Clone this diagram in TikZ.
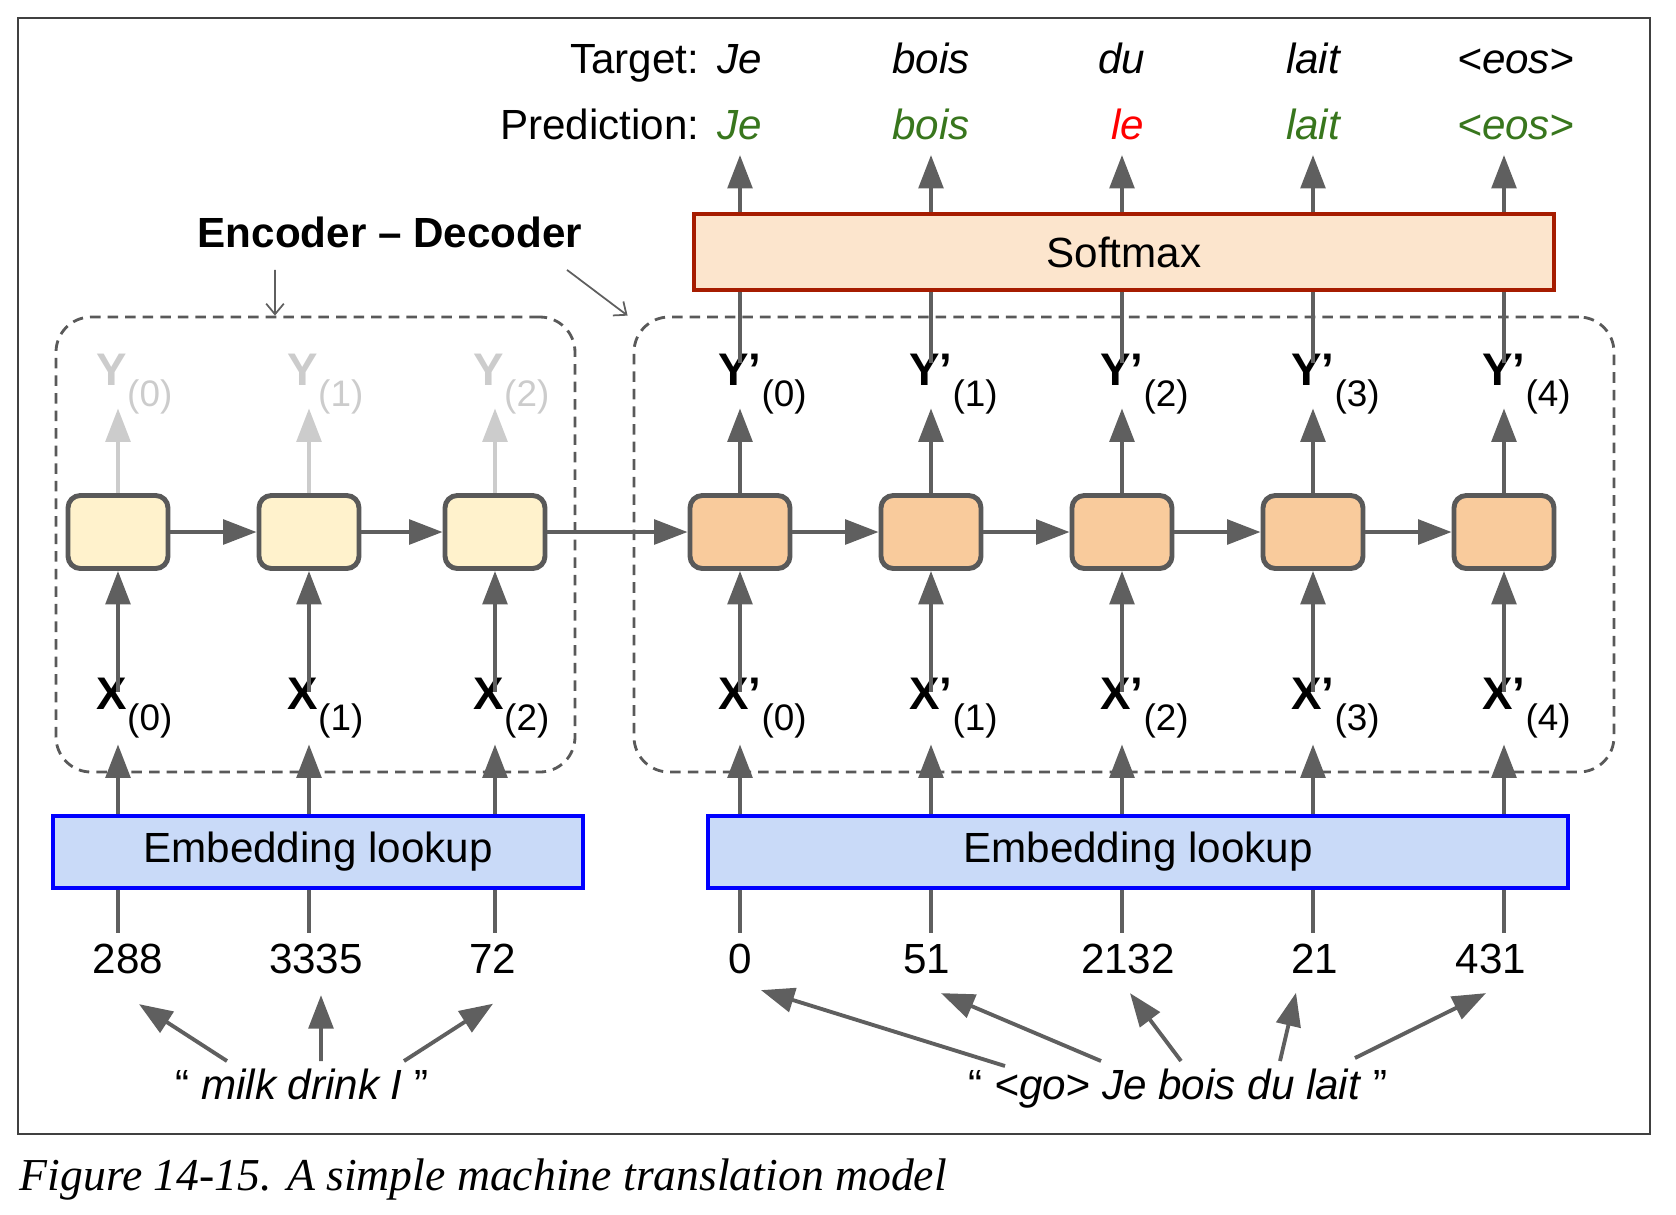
\documentclass[tikz,border=0pt]{standalone}
\usepackage{fontspec}
\setmainfont{Liberation Sans}
\newfontfamily\capfont{Liberation Serif}
\usepackage{xcolor}
\usepackage{tikz}
\usetikzlibrary{
    positioning,
    arrows.meta,
    calc
}

\definecolor{linegray}{HTML}{5F5F5F}
\definecolor{cellgray}{HTML}{595959}
\definecolor{encfill}{HTML}{FFF2CC}
\definecolor{decfill}{HTML}{F9CB9C}
\definecolor{softfill}{HTML}{FCE5CD}
\definecolor{softdraw}{HTML}{A61C00}
\definecolor{embfill}{HTML}{C9DAF8}
\definecolor{embdraw}{HTML}{0000FF}
\definecolor{okgreen}{HTML}{38761D}
\definecolor{badred}{HTML}{FF0000}
\definecolor{fadegray}{HTML}{CCCCCC}

% letter with its time-step index
\newcommand{\seqlbl}[2]{#1\rlap{\fontsize{10.5}{12}\selectfont\mdseries\raisebox{-6pt}{(#2)}}}

\begin{document}
\begin{tikzpicture}[font=\fontsize{12}{14}\selectfont,
  cell/.style={draw=cellgray, line width=1.4pt, rounded corners=3.5pt,
               minimum width=1.0cm, minimum height=0.73cm},
  enccell/.style={cell, fill=encfill},
  deccell/.style={cell, fill=decfill},
  wide/.style={minimum height=0.72cm, inner sep=0pt, line width=0.9pt},
  sym/.style={font=\fontsize{13}{15}\selectfont\bfseries, anchor=base, inner sep=0pt},
  word/.style={font=\fontsize{12}{14}\selectfont\itshape, anchor=base, inner sep=0pt},
  num/.style={anchor=base, inner sep=0pt},
  grp/.style={draw=cellgray, dash pattern=on 3pt off 2pt, line width=0.8pt,
              rounded corners=10pt, inner sep=0pt},
  arr/.style={-{Triangle[length=9.5pt,width=7pt]}, line width=1.1pt, draw=linegray},
  farr/.style={arr, draw=fadegray},
  vline/.style={line width=1.1pt, draw=linegray},
  note/.style={-{Straight Barb[length=3pt,width=5pt]}, line width=0.5pt, draw=linegray}]

  \useasboundingbox (0,0) rectangle (16.76,-12.14);
  \draw[black!75, line width=0.6pt] (0.18,-0.18) rectangle (16.50,-11.34);

  % Encoder / decoder groups (behind everything)
  \node[grp, minimum width=5.19cm, minimum height=4.55cm] (encbox) at (3.155,-5.445) {};
  \node[grp, minimum width=9.80cm, minimum height=4.55cm] (decbox) at (11.24,-5.445) {};
  \node[font=\fontsize{12}{14}\selectfont\bfseries] (encdec) at (3.90,-2.32) {Encoder – Decoder};
  \draw[note] ([xshift=-11.5mm,yshift=-1mm]encdec.south) -- ([xshift=-4.05mm]encbox.north);
  \draw[note] ([xshift=17.7mm,yshift=-1mm]encdec.south) -- ([xshift=-0.5mm]decbox.north west);

  % Recurrent cells
  \node[enccell] (c0) at (1.18,-5.32) {};
  \node[enccell] (c1) at (3.09,-5.32) {};
  \node[enccell] (c2) at (4.95,-5.32) {};
  \node[deccell] (d0) at (7.40,-5.32) {};
  \node[deccell] (d1) at (9.31,-5.32) {};
  \node[deccell] (d2) at (11.22,-5.32) {};
  \node[deccell] (d3) at (13.13,-5.32) {};
  \node[deccell] (d4) at (15.04,-5.32) {};

  % Wide boxes
  \node[wide, draw=softdraw, fill=softfill, minimum width=8.60cm, minimum height=0.76cm]
    (soft) at (11.24,-2.52) {Softmax};
  \node[wide, draw=embdraw, fill=embfill, minimum width=5.30cm] (embL) at (3.18,-8.52) {Embedding lookup};
  \node[wide, draw=embdraw, fill=embfill, minimum width=8.60cm] (embR) at (11.38,-8.52) {Embedding lookup};

  % Inputs and outputs of the cells
  \node[sym] (x0) at (1.12,-7.09) {\seqlbl{X}{0}};
  \node[sym] (x1) at (3.03,-7.09) {\seqlbl{X}{1}};
  \node[sym] (x2) at (4.89,-7.09) {\seqlbl{X}{2}};
  \node[sym, text=fadegray] (y0) at (1.12,-3.85) {\seqlbl{Y}{0}};
  \node[sym, text=fadegray] (y1) at (3.03,-3.85) {\seqlbl{Y}{1}};
  \node[sym, text=fadegray] (y2) at (4.89,-3.85) {\seqlbl{Y}{2}};
  \node[sym] (xp0) at (7.40,-7.09) {\seqlbl{X’}{0}};
  \node[sym] (xp1) at (9.31,-7.09) {\seqlbl{X’}{1}};
  \node[sym] (xp2) at (11.22,-7.09) {\seqlbl{X’}{2}};
  \node[sym] (xp3) at (13.13,-7.09) {\seqlbl{X’}{3}};
  \node[sym] (xp4) at (15.04,-7.09) {\seqlbl{X’}{4}};
  \node[sym] (yp0) at (7.40,-3.85) {\seqlbl{Y’}{0}};
  \node[sym] (yp1) at (9.31,-3.85) {\seqlbl{Y’}{1}};
  \node[sym] (yp2) at (11.22,-3.85) {\seqlbl{Y’}{2}};
  \node[sym] (yp3) at (13.13,-3.85) {\seqlbl{Y’}{3}};
  \node[sym] (yp4) at (15.04,-3.85) {\seqlbl{Y’}{4}};

  % Target and prediction rows
  \node[anchor=base east, inner sep=0pt] (tgtlbl) at (7.00,-0.73) {Target:};
  \node[anchor=base east, inner sep=0pt] (predlbl) at (7.00,-1.39) {Prediction:};
  \node[word] (t0) at (7.40,-0.73) {Je};
  \node[word] (t1) at (9.31,-0.73) {bois};
  \node[word] (t2) at (11.22,-0.73) {du};
  \node[word] (t3) at (13.13,-0.73) {lait};
  \node[word] (t4) at (15.16,-0.73) {<eos>};
  \node[word, text=okgreen] (p0) at (7.40,-1.39) {Je};
  \node[word, text=okgreen] (p1) at (9.31,-1.39) {bois};
  \node[word, text=badred]  (p2) at (11.28,-1.39) {le};
  \node[word, text=okgreen] (p3) at (13.13,-1.39) {lait};
  \node[word, text=okgreen] (p4) at (15.16,-1.39) {<eos>};

  % Word ids and sentences
  \node[num] (n288)  at (1.28,-9.73) {288};
  \node[num] (n3335) at (3.16,-9.73) {3335};
  \node[num] (n72)   at (4.93,-9.73) {72};
  \node[num] (n0)    at (7.40,-9.73) {0};
  \node[num] (n51)   at (9.27,-9.73) {51};
  \node[num] (n2132) at (11.28,-9.73) {2132};
  \node[num] (n21)   at (13.15,-9.73) {21};
  \node[num] (n431)  at (14.91,-9.73) {431};
  \node[num] (srcsent) at (3.02,-10.99) {“ \textit{milk drink I} ”};
  \node[num] (tgtsent) at (11.78,-10.99) {“ \textit{<go> Je bois du lait} ”};

  % Encoder columns
  \draw[arr, shorten >=0.6mm] (c0 |- embL.north) -- (x0.south -| c0);
  \draw[arr, shorten >=0.6mm] (c1 |- embL.north) -- (x1.south -| c1);
  \draw[arr, shorten >=0.6mm] (c2 |- embL.north) -- (x2.south -| c2);
  \draw[arr, shorten <=-1.5mm] (x0.north -| c0) -- (c0);
  \draw[arr, shorten <=-1.5mm] (x1.north -| c1) -- (c1);
  \draw[arr, shorten <=-1.5mm] (x2.north -| c2) -- (c2);
  \draw[farr, shorten >=-0.6mm] (c0) -- (y0.south -| c0);
  \draw[farr, shorten >=-0.6mm] (c1) -- (y1.south -| c1);
  \draw[farr, shorten >=-0.6mm] (c2) -- (y2.south -| c2);
  \draw[vline, shorten >=1mm] (c0 |- embL.south) -- (c0 |- n288.north);
  \draw[vline, shorten >=1mm] (c1 |- embL.south) -- (c1 |- n3335.north);
  \draw[vline, shorten >=1mm] (c2 |- embL.south) -- (c2 |- n72.north);

  % Decoder columns
  \draw[arr, shorten >=0.6mm] (d0 |- embR.north) -- (xp0.south -| d0);
  \draw[arr, shorten >=0.6mm] (d1 |- embR.north) -- (xp1.south -| d1);
  \draw[arr, shorten >=0.6mm] (d2 |- embR.north) -- (xp2.south -| d2);
  \draw[arr, shorten >=0.6mm] (d3 |- embR.north) -- (xp3.south -| d3);
  \draw[arr, shorten >=0.6mm] (d4 |- embR.north) -- (xp4.south -| d4);
  \draw[arr, shorten <=-1.5mm] (xp0.north -| d0) -- (d0);
  \draw[arr, shorten <=-1.5mm] (xp1.north -| d1) -- (d1);
  \draw[arr, shorten <=-1.5mm] (xp2.north -| d2) -- (d2);
  \draw[arr, shorten <=-1.5mm] (xp3.north -| d3) -- (d3);
  \draw[arr, shorten <=-1.5mm] (xp4.north -| d4) -- (d4);
  \draw[arr, shorten >=-0.6mm] (d0) -- (yp0.south -| d0);
  \draw[arr, shorten >=-0.6mm] (d1) -- (yp1.south -| d1);
  \draw[arr, shorten >=-0.6mm] (d2) -- (yp2.south -| d2);
  \draw[arr, shorten >=-0.6mm] (d3) -- (yp3.south -| d3);
  \draw[arr, shorten >=-0.6mm] (d4) -- (yp4.south -| d4);
  \draw[vline, shorten <=-1mm] (yp0.north -| d0) -- (d0 |- soft.south);
  \draw[vline, shorten <=-1mm] (yp1.north -| d1) -- (d1 |- soft.south);
  \draw[vline, shorten <=-1mm] (yp2.north -| d2) -- (d2 |- soft.south);
  \draw[vline, shorten <=-1mm] (yp3.north -| d3) -- (d3 |- soft.south);
  \draw[vline, shorten <=-1mm] (yp4.north -| d4) -- (d4 |- soft.south);
  \draw[arr, shorten >=1.6mm] (d0 |- soft.north) -- (d0 |- p0.base);
  \draw[arr, shorten >=1.6mm] (d1 |- soft.north) -- (d1 |- p1.base);
  \draw[arr, shorten >=1.6mm] (d2 |- soft.north) -- (d2 |- p2.base);
  \draw[arr, shorten >=1.6mm] (d3 |- soft.north) -- (d3 |- p3.base);
  \draw[arr, shorten >=1.6mm] (d4 |- soft.north) -- (d4 |- p4.base);
  \draw[vline, shorten >=1mm] (d0 |- embR.south) -- (d0 |- n0.north);
  \draw[vline, shorten >=1mm] (d1 |- embR.south) -- (d1 |- n51.north);
  \draw[vline, shorten >=1mm] (d2 |- embR.south) -- (d2 |- n2132.north);
  \draw[vline, shorten >=1mm] (d3 |- embR.south) -- (d3 |- n21.north);
  \draw[vline, shorten >=1mm] (d4 |- embR.south) -- (d4 |- n431.north);

  % Hidden state passed along
  \draw[arr] (c0) -- (c1);
  \draw[arr] (c1) -- (c2);
  \draw[arr] (c2) -- (d0);
  \draw[arr] (d0) -- (d1);
  \draw[arr] (d1) -- (d2);
  \draw[arr] (d2) -- (d3);
  \draw[arr] (d3) -- (d4);

  % Words to ids
  \coordinate (m1) at (2.27,-10.61);
  \coordinate (m2) at (3.21,-10.61);
  \coordinate (m3) at (4.04,-10.61);
  \coordinate (g1) at (10.05,-10.66);
  \coordinate (g2) at (11.01,-10.61);
  \coordinate (g3) at (11.81,-10.61);
  \coordinate (g4) at (12.80,-10.61);
  \coordinate (g5) at (13.55,-10.58);
  \draw[arr] (m1) -- ([xshift=1.1mm,yshift=-3mm]n288.south);
  \draw[arr] (m2) -- ([xshift=0.5mm,yshift=-2.1mm]n3335.south);
  \draw[arr] (m3) -- ([yshift=-3mm]n72.south);
  \draw[arr] (g1) -- ([xshift=2.1mm,yshift=-1.6mm]n0.south);
  \draw[arr] (g2) -- ([xshift=1.4mm,yshift=-1.9mm]n51.south);
  \draw[arr] (g3) -- ([xshift=0.2mm,yshift=-1.9mm]n2132.south);
  \draw[arr] (g4) -- ([xshift=-1.9mm,yshift=-1.9mm]n21.south);
  \draw[arr] (g5) -- ([xshift=-0.5mm,yshift=-1.9mm]n431.south);

  % Caption
  \node[anchor=base west, inner sep=0pt, font=\capfont\itshape\fontsize{13}{15}\selectfont]
    (caption) at (0.19,-11.90) {Figure 14-15. A simple machine translation model};
\end{tikzpicture}
\end{document}
